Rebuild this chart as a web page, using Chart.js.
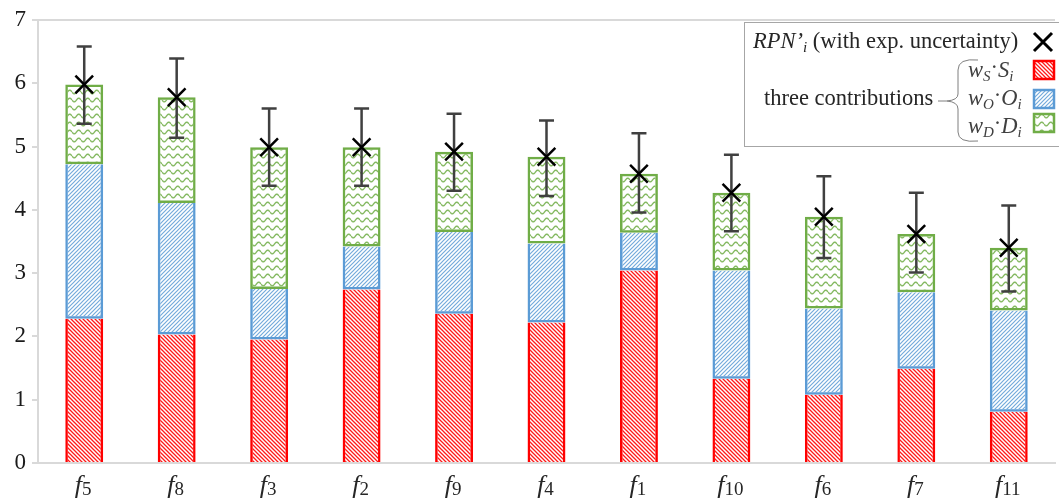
<!DOCTYPE html>
<html>
<head>
<meta charset="utf-8">
<script src="https://cdn.jsdelivr.net/npm/chart.js@4"></script>
<style>
  html, body { margin: 0; padding: 0; background: #fff; overflow: hidden; }
  #wrap { width: 1070px; height: 500px; }
</style>
</head>
<body>
<div id="wrap"><canvas id="myChart"></canvas></div>
<script>
// failure modes, sorted by RPN'
var labels = ['f5', 'f8', 'f3', 'f2', 'f9', 'f4', 'f1', 'f10', 'f6', 'f7', 'f11'];
var wsS = [2.28, 2.03, 1.95, 2.74, 2.36, 2.22, 3.04, 1.33, 1.08, 1.49, 0.81];
var woO = [2.44, 2.08, 0.80, 0.68, 1.29, 1.25, 0.60, 1.71, 1.36, 1.21, 1.60];
var wdD = [1.26, 1.67, 2.24, 1.57, 1.27, 1.37, 0.93, 1.23, 1.45, 0.92, 0.99];
var rpn = [5.98, 5.78, 4.99, 4.99, 4.92, 4.84, 4.57, 4.27, 3.89, 3.62, 3.40];
var errLow = [5.36, 5.14, 4.38, 4.38, 4.30, 4.22, 3.96, 3.66, 3.24, 3.01, 2.71];
var errHigh = [6.58, 6.39, 5.60, 5.60, 5.52, 5.41, 5.21, 4.87, 4.53, 4.27, 4.07];
var yTicks = [0, 1, 2, 3, 4, 5, 6, 7];

var SERIF = '"Liberation Serif", "Times New Roman", serif';
var TXT = '#262626';
var AXIS = '#d9d9d9';

function tile(w, h, draw) {
    var c = document.createElement('canvas');
    c.width = w; c.height = h;
    var g = c.getContext('2d');
    draw(g, w, h);
    return document.createElement('canvas').getContext('2d').createPattern(c, 'repeat');
}

// "\\" hatch
var redPat = tile(4, 4, function (g, s) {
    g.strokeStyle = 'rgba(255,0,0,0.9)';
    g.lineWidth = 1.3;
    g.beginPath();
    g.moveTo(-1, -1); g.lineTo(s + 1, s + 1);
    g.moveTo(-1, s - 1); g.lineTo(1, s + 1);
    g.moveTo(s - 1, -1); g.lineTo(s + 1, 1);
    g.stroke();
});
// "//" hatch
var bluePat = tile(4, 4, function (g, s) {
    g.strokeStyle = 'rgba(91,155,213,0.85)';
    g.lineWidth = 1.2;
    g.beginPath();
    g.moveTo(-1, s + 1); g.lineTo(s + 1, -1);
    g.moveTo(-1, 1); g.lineTo(1, -1);
    g.moveTo(s - 1, s + 1); g.lineTo(s + 1, s - 1);
    g.stroke();
});
// wave
var greenPat = tile(9, 8, function (g, w, h) {
    g.strokeStyle = 'rgba(112,173,71,0.85)';
    g.lineWidth = 1.4;
    g.beginPath();
    for (var x = 0; x <= w; x += 0.5) {
        var y = 4 + 1.8 * Math.sin(2 * Math.PI * x / w);
        if (x == 0) g.moveTo(x, y); else g.lineTo(x, y);
    }
    g.stroke();
});

function runs(ctx, x, y, parts) {
    parts.forEach(function (p) {
        ctx.font = p[1];
        ctx.fillText(p[0], x, y + (p[2] || 0));
        x += ctx.measureText(p[0]).width;
    });
    return x;
}

var extras = {
    id: 'extras',
    beforeDatasetsDraw: function (chart) {
        var ctx = chart.ctx, a = chart.chartArea;
        ctx.save();
        ctx.strokeStyle = AXIS;
        ctx.lineWidth = 2;
        ctx.beginPath();
        ctx.moveTo(a.left, a.top); ctx.lineTo(a.right, a.top);
        ctx.stroke();
        ctx.restore();
    },
    beforeDatasetDraw: function (chart, args) {
        if (args.index != 3) return;
        var ctx = chart.ctx, xs = chart.scales.x, ys = chart.scales.y;
        ctx.save();
        ctx.strokeStyle = '#404040';
        ctx.lineWidth = 2.5;
        labels.forEach(function (l, i) {
            var x = xs.getPixelForValue(i);
            var y1 = ys.getPixelForValue(errLow[i]), y2 = ys.getPixelForValue(errHigh[i]);
            ctx.beginPath();
            ctx.moveTo(x, y1); ctx.lineTo(x, y2);
            ctx.moveTo(x - 7.5, y1); ctx.lineTo(x + 7.5, y1);
            ctx.moveTo(x - 7.5, y2); ctx.lineTo(x + 7.5, y2);
            ctx.stroke();
        });
        ctx.restore();
    },
    afterDraw: function (chart) {
        var ctx = chart.ctx, xs = chart.scales.x;
        ctx.save();
        ctx.fillStyle = TXT;
        ctx.textBaseline = 'alphabetic';
        // category labels f with subscript
        labels.forEach(function (l, i) {
            var x = xs.getPixelForValue(i);
            var f1 = 'italic 26px ' + SERIF, f2 = '19px ' + SERIF;
            ctx.font = f1; var w1 = ctx.measureText('f').width;
            ctx.font = f2; var w2 = ctx.measureText(l.slice(1)).width;
            runs(ctx, x - (w1 + w2) / 2 - 1, 493, [['f', f1], [l.slice(1), f2, 2]]);
        });

        // legend box
        ctx.fillStyle = '#fff';
        ctx.fillRect(744, 22, 330, 125);
        ctx.strokeStyle = '#a6a6a6';
        ctx.lineWidth = 1;
        ctx.strokeRect(744.5, 22.5, 330, 124);

        ctx.fillStyle = TXT;
        var it = 'italic 22.5px ' + SERIF, rg = '22.5px ' + SERIF;
        var sub = 'italic 15px ' + SERIF;
        runs(ctx, 753, 48, [["RPN\u2019", it], ['i', sub, 4], [' (with exp. uncertainty)', rg]]);
        ctx.strokeStyle = '#000';
        ctx.lineWidth = 3;
        ctx.beginPath();
        ctx.moveTo(1034, 33); ctx.lineTo(1052, 51);
        ctx.moveTo(1052, 33); ctx.lineTo(1034, 51);
        ctx.stroke();

        var rows = [['S', 77, redPat, '#ff0000', 61], ['O', 105, bluePat, '#5b9bd5', 90], ['D', 133, greenPat, '#70ad47', 114]];
        rows.forEach(function (r) {
            ctx.fillStyle = '#404040';
            runs(ctx, 968, r[1], [['w', it], [r[0], sub, 4], ['\u00b7', rg, -3], [r[0], it], ['i', sub, 4]]);
            ctx.fillStyle = r[2];
            ctx.fillRect(1034, r[4], 20, 18);
            ctx.strokeStyle = r[3];
            ctx.lineWidth = 2.5;
            ctx.strokeRect(1034, r[4], 20, 18);
        });

        ctx.fillStyle = TXT;
        ctx.font = '22.5px ' + SERIF;
        ctx.fillText('three contributions', 764, 105);

        // brace
        ctx.strokeStyle = '#7f7f7f';
        ctx.lineWidth = 1;
        ctx.beginPath();
        ctx.moveTo(938, 101); ctx.lineTo(947, 101);
        ctx.moveTo(978, 60);
        ctx.quadraticCurveTo(958, 58, 958, 70);
        ctx.lineTo(958, 94);
        ctx.quadraticCurveTo(958, 100, 947, 101);
        ctx.quadraticCurveTo(958, 102, 958, 109);
        ctx.lineTo(958, 132);
        ctx.quadraticCurveTo(958, 143, 978, 141);
        ctx.stroke();
        ctx.restore();
    }
};

var config = {
    type: 'bar',
    data: {
        labels: labels,
        datasets: [
            { label: 'wS·Si', data: wsS, backgroundColor: redPat, borderColor: '#ff0000',
              borderWidth: { left: 2.5, right: 2.5, top: 0, bottom: 0 }, borderSkipped: false, stack: 'c', order: 1 },
            { label: 'wO·Oi', data: woO, backgroundColor: bluePat, borderColor: '#5b9bd5',
              borderWidth: { left: 2.5, right: 2.5, top: 0, bottom: 2.5 }, borderSkipped: false, stack: 'c', order: 1 },
            { label: 'wD·Di', data: wdD, backgroundColor: greenPat, borderColor: '#70ad47',
              borderWidth: 2.5, borderSkipped: false, stack: 'c', order: 1 },
            { type: 'line', label: "RPN'i", data: rpn, showLine: false, stack: 'rpn', order: 0,
              pointStyle: 'crossRot', pointRadius: 12.5, borderColor: '#000', backgroundColor: '#000', borderWidth: 2.5 }
        ]
    },
    options: {
        responsive: true, maintainAspectRatio: false,
        animation: false,
        layout: { padding: { top: 20, left: 0, right: 0, bottom: 0 } },
        datasets: { bar: { categoryPercentage: 1, barPercentage: 0.41 } },
        plugins: { legend: { display: false }, tooltip: { enabled: false } },
        scales: {
            x: {
                stacked: true,
                grid: { display: false },
                border: { display: true, color: AXIS, width: 2 },
                ticks: { display: false },
                afterFit: function (s) { s.height = 37; }
            },
            y: {
                stacked: true, min: 0, max: 7,
                afterBuildTicks: function (s) { s.ticks = yTicks.map(function (v) { return { value: v }; }); },
                grid: { drawOnChartArea: false, drawTicks: true, tickLength: 6, color: AXIS, lineWidth: 2 },
                border: { display: true, color: AXIS, width: 2 },
                ticks: { color: '#1a1a1a', font: { family: SERIF, size: 23 }, padding: 6 },
                afterFit: function (s) { s.width = 38; }
            }
        }
    },
    plugins: [extras]
};

var myChart = new Chart(document.getElementById('myChart'), config);
</script>
</body>
</html>
